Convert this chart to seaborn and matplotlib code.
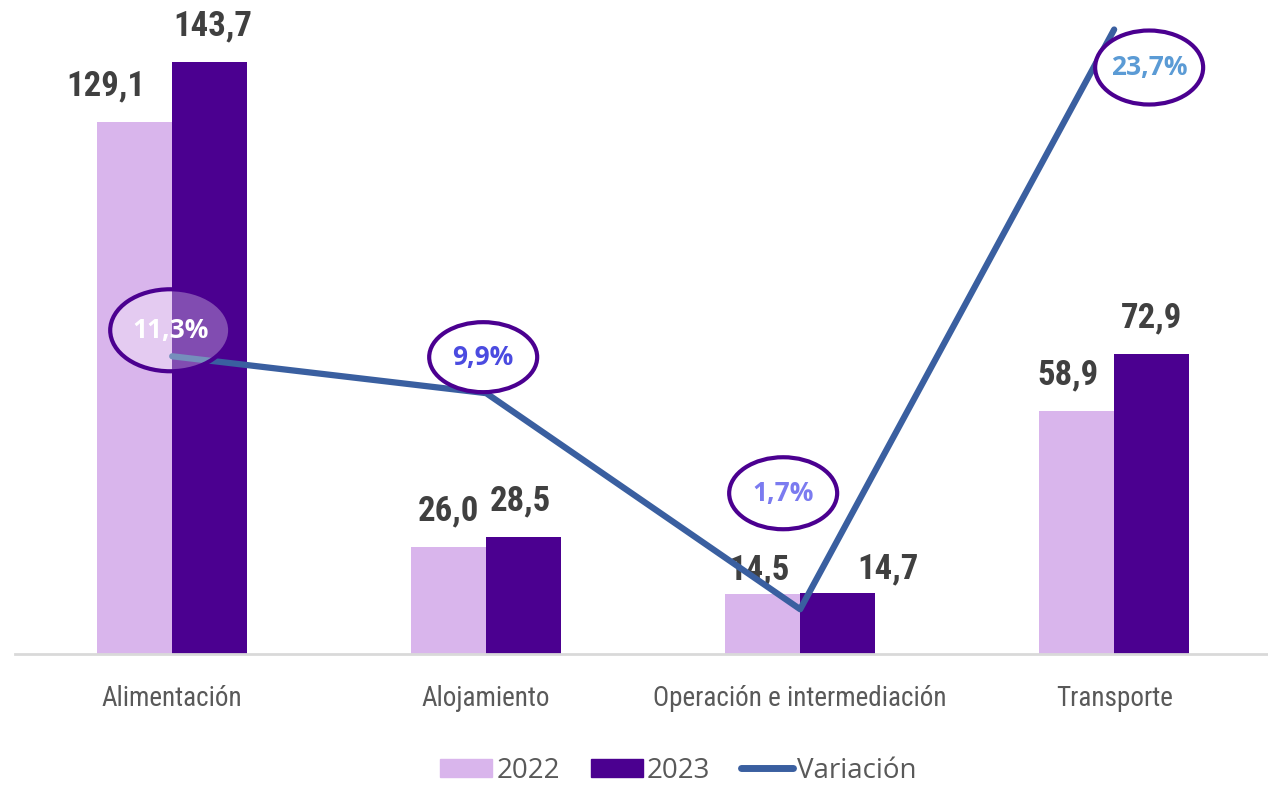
import matplotlib
matplotlib.use("Agg")
import matplotlib.pyplot as plt
import matplotlib.font_manager as fm
from matplotlib.lines import Line2D
from matplotlib.patches import Patch, Ellipse
from matplotlib.transforms import IdentityTransform
import pandas as pd
import seaborn as sns
import numpy as np

# datos
categorias = ["Alimentación", "Alojamiento", "Operación e intermediación", "Transporte"]
anios = ["2022", "2023"]
valores_2022 = [129.1, 26.0, 14.5, 58.9]
valores_2023 = [143.7, 28.5, 14.7, 72.9]
variacion = [11.3, 9.9, 1.7, 23.7]

df = pd.DataFrame({
    "categoria": categorias * 2,
    "anio": ["2022"] * 4 + ["2023"] * 4,
    "valor": valores_2022 + valores_2023,
})

# fuentes disponibles
nombres = {f.name for f in fm.fontManager.ttflist}
cond = "DejaVu Sans"
for n in ["Roboto Condensed", "Liberation Sans Narrow", "DejaVu Sans Condensed", "Open Sans Condensed"]:
    if n in nombres:
        cond = n
        break
normal = "Open Sans" if "Open Sans" in nombres else "DejaVu Sans"

sns.set_style("white")
plt.rcParams["font.family"] = [normal, "DejaVu Sans"]

col_2022 = "#D9B5EC"
col_2023 = "#4B0090"
col_linea = "#3A5FA0"

fig = plt.figure(figsize=(12.68, 7.88), dpi=100)
ax = fig.add_axes([0.012, 0.17, 0.988, 0.83])

sns.barplot(data=df, x="categoria", y="valor", hue="anio", order=categorias,
            hue_order=anios, palette=[col_2022, col_2023], width=0.476, gap=0,
            saturation=1, linewidth=0, legend=False, ax=ax)

ax.set_xlim(-0.50, 3.49)
ax.set_ylim(0, 158.7)

# desplazamiento horizontal (pt) de cada etiqueta para esquivar la línea
ajuste_x = [[-21, 0, -3, -6], [2, -2, 36, 0]]
for j, cont in enumerate(ax.containers):
    labels = [f"{b.get_height():.1f}".replace(".", ",") for b in cont]
    anns = ax.bar_label(cont, labels=labels, padding=14, fontsize=25, fontweight="bold",
                        color="#404040", family=cond, fontstretch="condensed")
    for k, a in enumerate(anns):
        a.xyann = (ajuste_x[j][k], 14 if cont[k].get_height() > 20 else 6)

ax.set_xlabel("")
ax.set_ylabel("")
ax.set_yticks([])
ax.tick_params(axis="x", length=0, pad=22)
for t in ax.get_xticklabels():
    t.set_fontsize(19.5)
    t.set_color("#595959")
    t.set_family(cond)
    t.set_fontstretch("condensed")
for s in ["top", "left", "right"]:
    ax.spines[s].set_visible(False)
ax.spines["bottom"].set_color("#D9D9D9")
ax.spines["bottom"].set_linewidth(2)

# eje secundario: variación
ax2 = ax.twinx()
sns.lineplot(x=np.arange(len(categorias)), y=variacion, color=col_linea, lw=4.5,
             solid_capstyle="round", ax=ax2)
ax2.set_ylim(0, 24.82)
ax2.set_yticks([])
ax2.set_ylabel("")
for s in ["top", "left", "right", "bottom"]:
    ax2.spines[s].set_visible(False)

# etiquetas de variación dentro de elipses (desplazamientos en píxeles)
desp = [(-2, 26), (-3, 36), (-17, 116), (35, -38)]
tam = [(120, 82), (108, 70), (108, 72), (108, 74)]
colores_pct = ["white", "#4B4BE0", "#7B7BF0", "#5B9BD5"]
fondos = [(1, 1, 1, 0.3), "white", "white", "white"]
for i, v in enumerate(variacion):
    px, py = ax2.transData.transform((i, v))
    cx, cy = px + desp[i][0], py + desp[i][1]
    fig.add_artist(Ellipse((cx, cy), tam[i][0], tam[i][1], transform=IdentityTransform(),
                           fc=fondos[i], ec=col_2023, lw=3, zorder=5))
    fig.text(cx, cy, f"{v:.1f}%".replace(".", ","), transform=IdentityTransform(),
             ha="center", va="center", fontsize=19, fontweight="bold",
             color=colores_pct[i], zorder=6)

handles = [Patch(color=col_2022, label="2022"), Patch(color=col_2023, label="2023"),
           Line2D([0], [0], color=col_linea, lw=5, solid_capstyle="round", label="Variación")]
fig.legend(handles=handles, loc="center", bbox_to_anchor=(0.535, 0.022), ncol=3,
           frameon=False, fontsize=20, labelcolor="#595959", handlelength=1.87,
           handleheight=0.65, handletextpad=0.15, columnspacing=1.1, borderpad=0)

fig.savefig("out.png", dpi=100)
